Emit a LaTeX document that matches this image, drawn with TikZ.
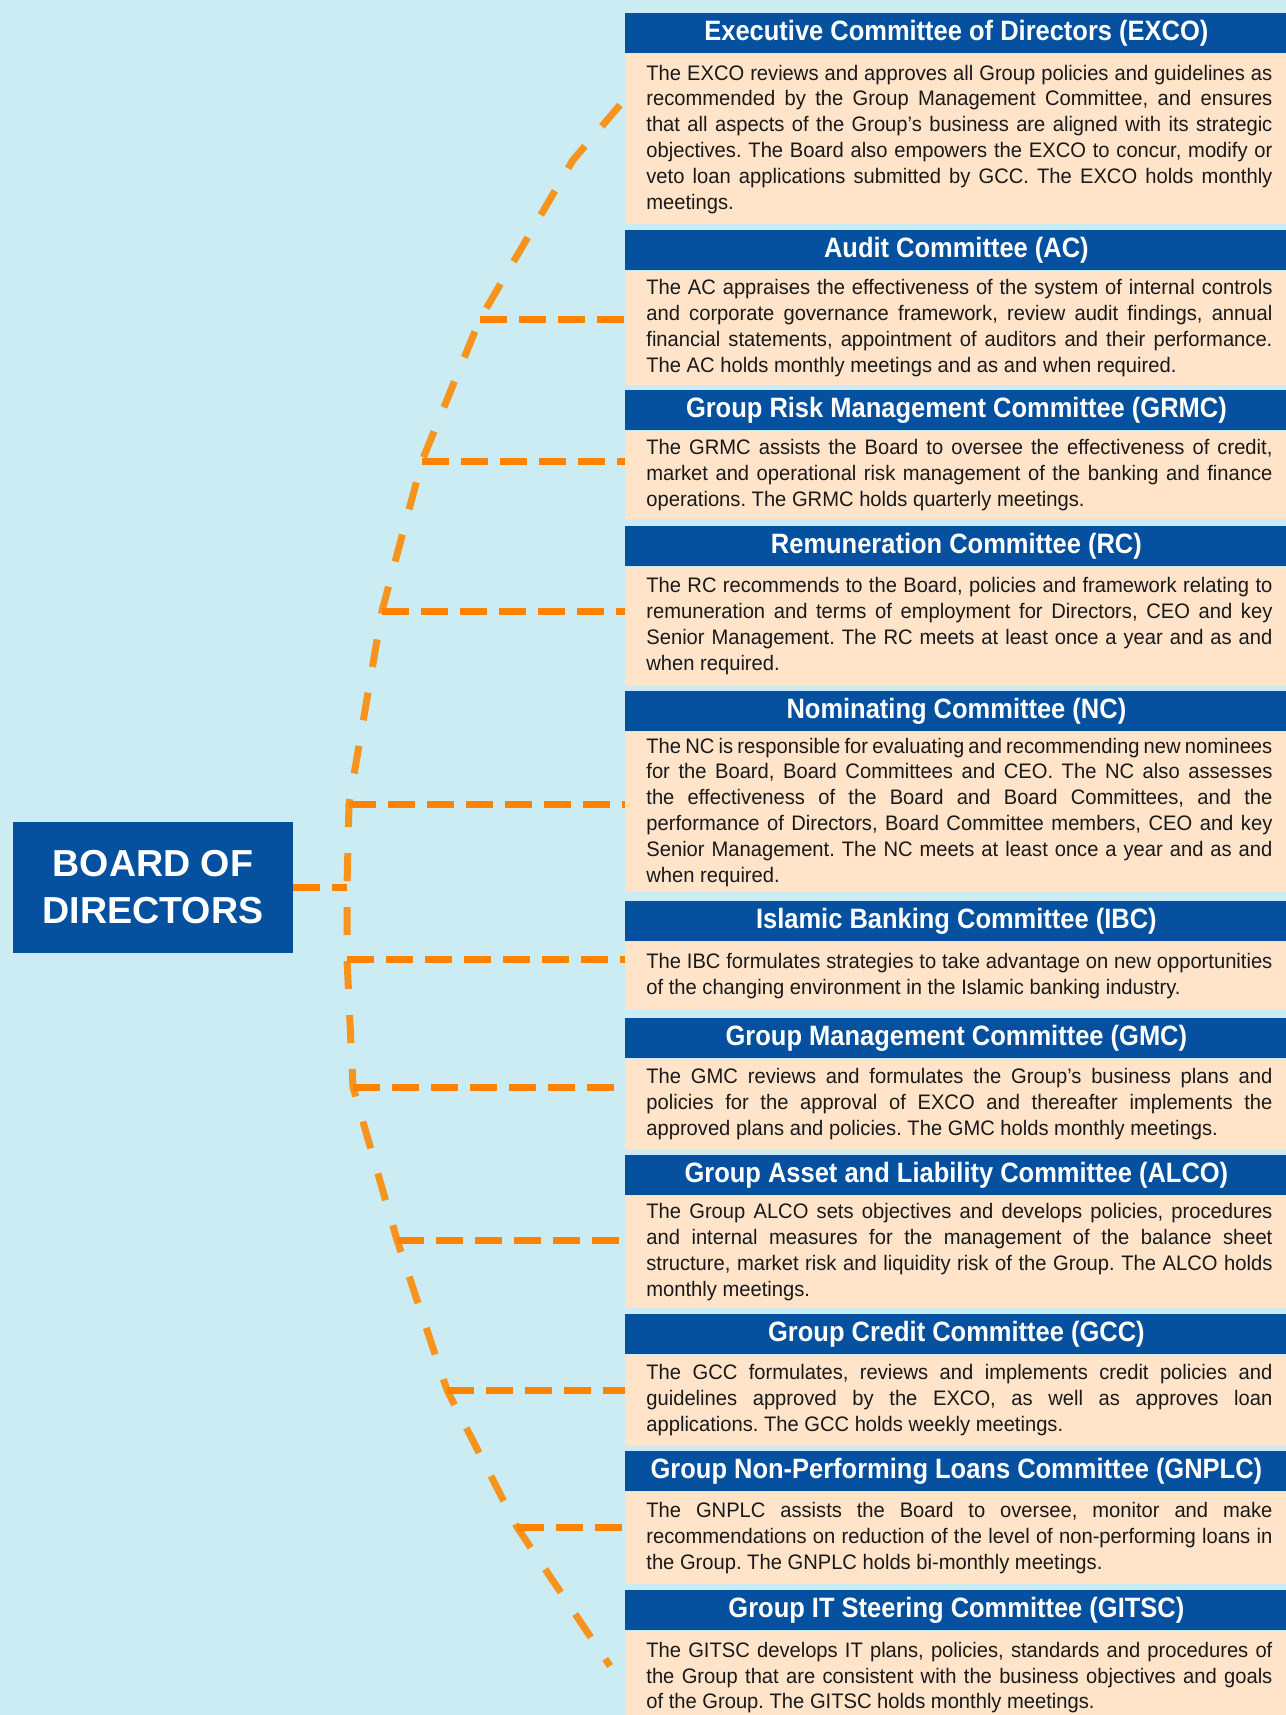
\documentclass[tikz,border=0pt]{standalone}
\usepackage{fontspec}
\setmainfont{Liberation Sans}
\newfontfamily\bodyfont{Liberation Sans}[FakeStretch=0.96]
\newfontfamily\headfont{Liberation Sans}[FakeStretch=0.91]
\definecolor{bgblue}{RGB}{204,236,243}
\definecolor{headblue}{RGB}{5,81,160}
\definecolor{peach}{RGB}{255,228,202}
\definecolor{linkorange}{RGB}{255,130,0}
\definecolor{spineorange}{RGB}{247,148,29}
\hyphenpenalty=10000
\exhyphenpenalty=10000
\frenchspacing
\tikzset{
  board/.style={fill=headblue, text=white, inner sep=0pt, minimum width=140pt, minimum height=65.5pt,
    align=center, font=\bfseries\fontsize{18.8}{23.7}\selectfont},
  head/.style={anchor=north west, fill=headblue, text=white, inner sep=0pt, minimum width=331pt,
    minimum height=20pt, font=\headfont\bfseries\fontsize{14}{16}\selectfont},
  body/.style={anchor=north west, fill=peach, text=black!90, inner xsep=10.5pt, inner ysep=0pt,
    text width=313pt, align=justify, minimum height=#1, font=\bodyfont\fontsize{10.5}{12.9}\selectfont},
  link/.style={draw=linkorange, line width=3.5pt, dash pattern=on 13.5pt off 6pt},
  spine/.style={draw=spineorange, line width=3.5pt, dash pattern=on 14pt off 13pt},
}

\begin{document}
\begin{tikzpicture}[x=0.5pt, y=-0.5pt]
  \fill[bgblue] (0,0) rectangle (1286,1715);
  \useasboundingbox (0,0) rectangle (1286,1715);

  \node[board] (bod) at (153,887) {BOARD OF\\DIRECTORS};

  % committees: title bar, then description
  \node[head] (exco-h) at (625,13) {Executive Committee of Directors (EXCO)};
  \node[body=85pt] (exco) at (exco-h.south west) {The EXCO reviews and approves all Group policies and guidelines as\linebreak
    recommended by the Group Management Committee, and ensures\linebreak
    that all aspects of the Group’s business are aligned with its strategic\linebreak
    objectives. The Board also empowers the EXCO to concur, modify or\linebreak
    veto loan applications submitted by GCC. The EXCO holds monthly\linebreak
    meetings.};

  \node[head] (ac-h) at (625,230) {Audit Committee (AC)};
  \node[body=57pt] (ac) at (ac-h.south west) {The AC appraises the effectiveness of the system of internal controls\linebreak
    and corporate governance framework, review audit findings, annual\linebreak
    financial statements, appointment of auditors and their performance.\linebreak
    The AC holds monthly meetings and as and when required.};

  \node[head] (grmc-h) at (625,390) {Group Risk Management Committee (GRMC)};
  \node[body=44pt] (grmc) at (grmc-h.south west) {The GRMC assists the Board to oversee the effectiveness of credit,\linebreak
    market and operational risk management of the banking and finance\linebreak
    operations. The GRMC holds quarterly meetings.};

  \node[head] (rc-h) at (625,526) {Remuneration Committee (RC)};
  \node[body=59pt] (rc) at (rc-h.south west) {The RC recommends to the Board, policies and framework relating to\linebreak
    remuneration and terms of employment for Directors, CEO and key\linebreak
    Senior Management. The RC meets at least once a year and as and\linebreak
    when required.};

  \node[head] (nc-h) at (625,691) {Nominating Committee (NC)};
  \node[body=80pt] (nc) at (nc-h.south west) {The NC is responsible for evaluating and recommending new nominees\linebreak
    for the Board, Board Committees and CEO. The NC also assesses\linebreak
    the effectiveness of the Board and Board Committees, and the\linebreak
    performance of Directors, Board Committee members, CEO and key\linebreak
    Senior Management. The NC meets at least once a year and as and\linebreak
    when required.};

  \node[head] (ibc-h) at (625,901) {Islamic Banking Committee (IBC)};
  \node[body=34pt] (ibc) at (ibc-h.south west) {The IBC formulates strategies to take advantage on new opportunities\linebreak
    of the changing environment in the Islamic banking industry.};

  \node[head] (gmc-h) at (625,1018) {Group Management Committee (GMC)};
  \node[body=45pt] (gmc) at (gmc-h.south west) {The GMC reviews and formulates the Group’s business plans and\linebreak
    policies for the approval of EXCO and thereafter implements the\linebreak
    approved plans and policies. The GMC holds monthly meetings.};

  \node[head] (alco-h) at (625,1155) {Group Asset and Liability Committee (ALCO)};
  \node[body=56pt] (alco) at (alco-h.south west) {The Group ALCO sets objectives and develops policies, procedures\linebreak
    and internal measures for the management of the balance sheet\linebreak
    structure, market risk and liquidity risk of the Group. The ALCO holds\linebreak
    monthly meetings.};

  \node[head] (gcc-h) at (625,1314) {Group Credit Committee (GCC)};
  \node[body=45pt] (gcc) at (gcc-h.south west) {The GCC formulates, reviews and implements credit policies and\linebreak
    guidelines approved by the EXCO, as well as approves loan\linebreak
    applications. The GCC holds weekly meetings.};

  \node[head] (gnplc-h) at (625,1451) {Group Non-Performing Loans Committee (GNPLC)};
  \node[body=46pt] (gnplc) at (gnplc-h.south west) {The GNPLC assists the Board to oversee, monitor and make\linebreak
    recommendations on reduction of the level of non-performing loans in\linebreak
    the Group. The GNPLC holds bi-monthly meetings.};

  \node[head] (gitsc-h) at (625,1590) {Group IT Steering Committee (GITSC)};
  \node[body=46.5pt] (gitsc) at (gitsc-h.south west) {The GITSC develops IT plans, policies, standards and procedures of\linebreak
    the Group that are consistent with the business objectives and goals\linebreak
    of the Group. The GITSC holds monthly meetings.};

  % points on the bracket
  \coordinate (top) at (620,105);
  \coordinate (bend) at (573,160);
  \coordinate (jac) at (480,319);
  \coordinate (jgrmc) at (422,461);
  \coordinate (jrc) at (382,611);
  \coordinate (jnc) at (349,804);
  \coordinate (jbod) at (347,887);
  \coordinate (jibc) at (347,959);
  \coordinate (jgmc) at (353,1087);
  \coordinate (jalco) at (397,1240);
  \coordinate (jgcc) at (447,1390);
  \coordinate (jgnplc) at (517,1527);
  \coordinate (bot) at (610,1666);

  \draw[spine] (top) -- (bend) -- (jac) -- (jgrmc) -- (jrc) -- (jnc) -- (jbod) -- (jibc)
    -- (jgmc) -- (jalco) -- (jgcc) -- (jgnplc) -- (bot);

  \draw[link] (bod.east) -- (jbod);
  \foreach \c in {ac, grmc, rc, nc, ibc, gmc, alco, gcc, gnplc}
    \draw[link] (j\c) -- (j\c -| \c.west);
\end{tikzpicture}
\end{document}
